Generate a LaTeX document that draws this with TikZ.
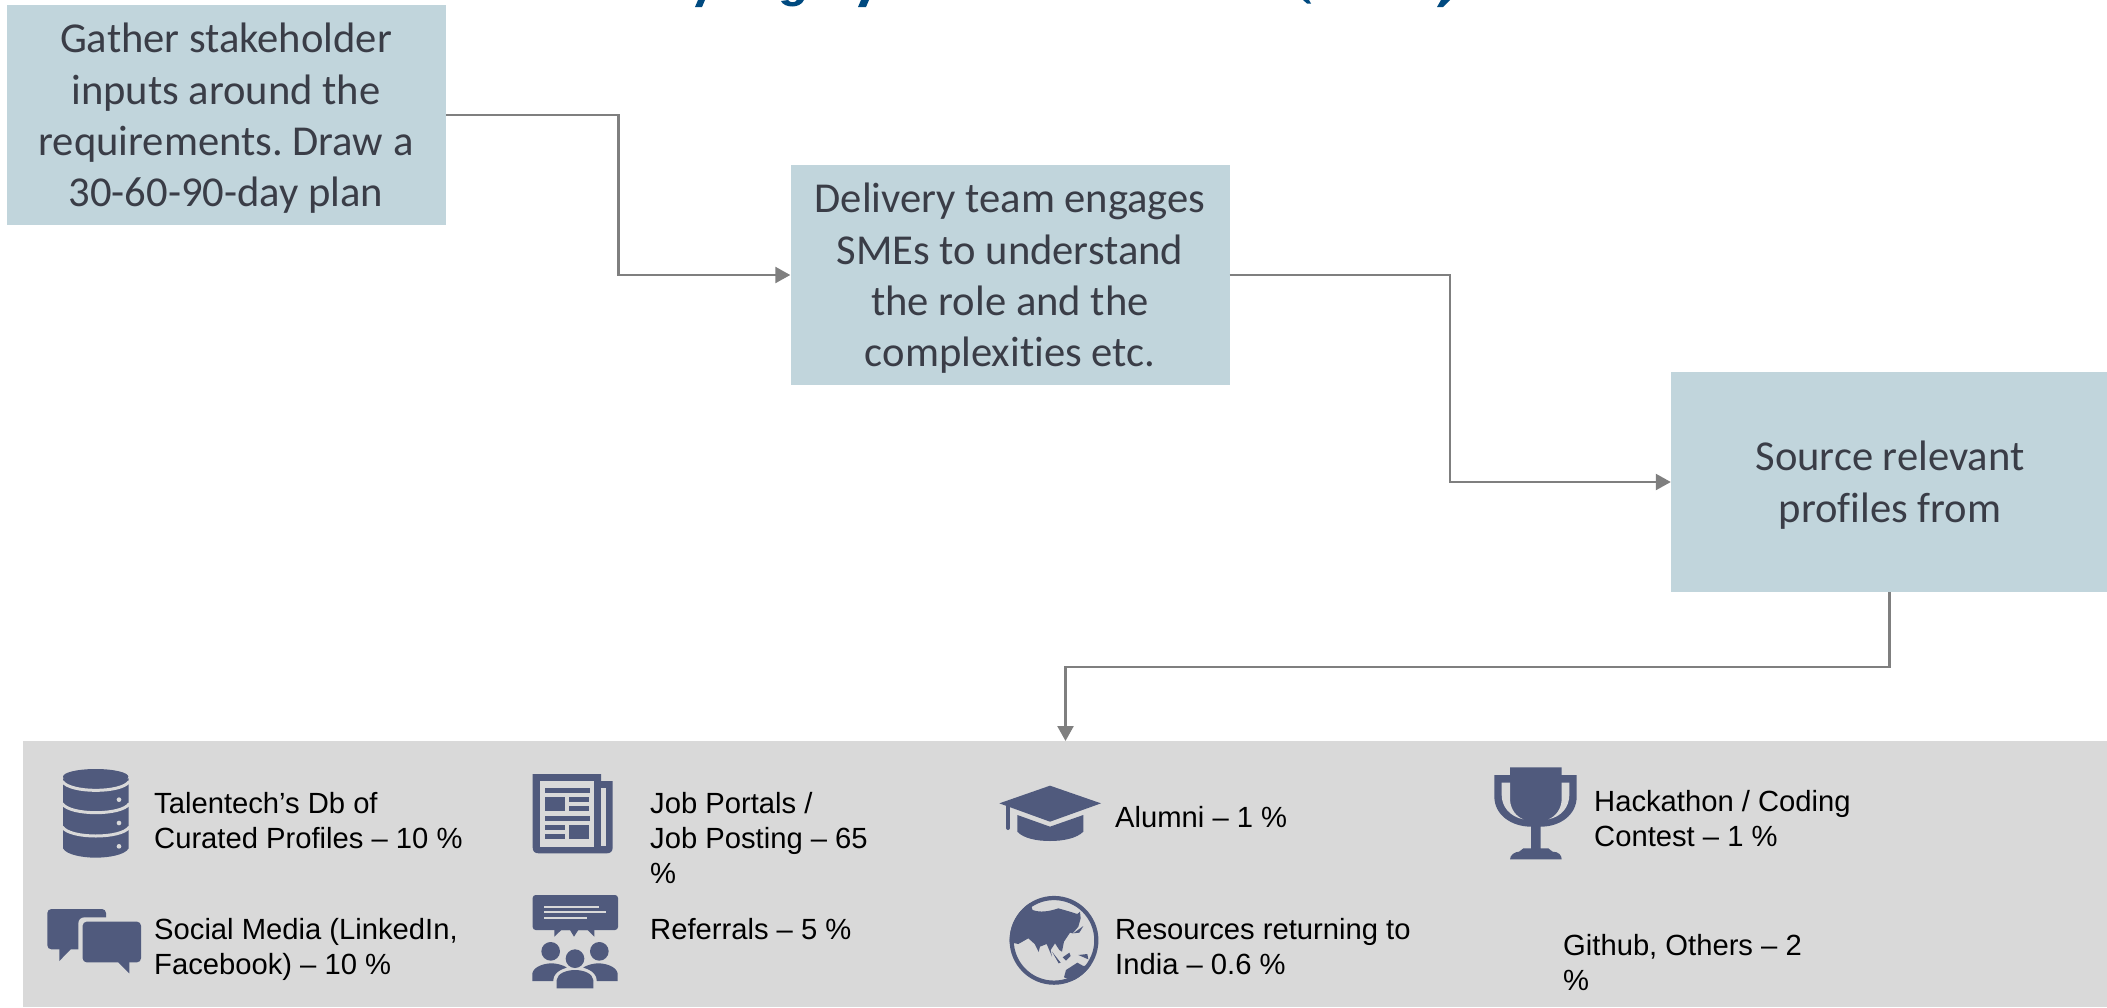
\documentclass[tikz,border=0pt]{standalone}
\usepackage{fontspec}
\setmainfont{Carlito}[RawFeature={-liga;-clig}]
\newfontfamily\labelfont{Liberation Sans}
\usetikzlibrary{arrows.meta}
\frenchspacing
\definecolor{boxfill}{HTML}{C1D5DC}
\definecolor{boxtext}{HTML}{3A3D47}
\definecolor{panelgrey}{HTML}{D9D9D9}
\definecolor{icon}{HTML}{505A7D}
\definecolor{linkgrey}{HTML}{7F7F7F}
\definecolor{titleblue}{HTML}{004A80}
\tikzset{
  stepbox/.style={rectangle,fill=boxfill,minimum width=439pt,minimum height=220pt,inner sep=0pt},
  steptext/.style={inner sep=0pt,align=center,text=boxtext,font=\fontsize{42.6}{51.4}\selectfont},
  link/.style={draw=linkgrey,line width=2.4pt,-{Triangle[length=15pt,width=16pt]}},
  lab/.style={anchor=west,inner sep=0pt,align=left,text=black,font=\labelfont\fontsize{29.2}{35}\selectfont},
  gapline/.style={draw=panelgrey,line width=2pt}
}
\begin{document}
\begin{tikzpicture}[x=1pt,y=-1pt]
\useasboundingbox (0,0) rectangle (2107,1007);
% cropped title remains
\fill[titleblue] (695,7) -- (698,0) -- (705,0) -- (702,7) -- cycle;
\fill[titleblue] (781,1) .. controls (784,8) and (800,9) .. (804,0) -- (797,0) .. controls (795,3) and (790,3) .. (788,0) -- cycle;
\fill[titleblue] (858,7) -- (861,0) -- (869,0) -- (866,7) -- cycle;
\fill[titleblue] (1303,0) -- (1307,3.5) -- (1311,3.5) -- (1309,0) -- cycle;
\fill[titleblue] (1437,7) -- (1443,7) -- (1450,0) -- (1441,0) -- cycle;
% panel
\node[fill=panelgrey,inner sep=0pt,minimum width=2084pt,minimum height=266pt] (panel) at (1065,874) {};
% steps
\node[stepbox] (gather) at (226.5,115) {};
\node[stepbox] (delivery) at (1010,275) {};
\node[stepbox,minimum width=437pt] (source) at (1889.5,482) {};
\node[steptext] (gathertext) at (226,118.5) {Gather stakeholder\\inputs around the\\requirements. Draw a\\30-60-90-day plan};
\node[steptext] (deliverytext) at (1010,278.5) {Delivery team engages\\SMEs to understand\\the role and the\\complexities etc.};
\node[steptext] (sourcetext) at (1890,485) {Source relevant\\profiles from};
% connectors
\coordinate (c1) at (618.5,200);
\coordinate (c2) at (1450,400);
\coordinate (c3) at (1065.5,741);
\coordinate (c4) at (1065.5,667);
\draw[link] (gather.east) -| (c1) |- (delivery.west);
\draw[link] (delivery.east) -| (c2) |- (source.west);
\draw[link] (source.south) |- (c4) -- (c3);
% labels
\node[lab] (l1) at (154,821) {Talentech’s Db of\\Curated Profiles – 10 \%};
\node[lab] (l2) at (650,837.5) {Job Portals /\\Job Posting – 65\\\%};
\node[lab] (l3) at (154,949) {Social Media (LinkedIn,\\Facebook) – 10 \%};
\node[lab] (l4) at (650,929) {Referrals – 5 \%};
\node[lab] (l5) at (1115,817) {Alumni – 1 \%};
\node[lab] (l6) at (1594,819) {Hackathon / Coding\\Contest – 1 \%};
\node[lab] (l7) at (1115,946.5) {Resources returning to\\India – 0.6 \%};
\node[lab] (l8) at (1563,962.5) {Github, Others – 2\\\%};
% database icon
\begin{scope}[shift={(40,760)},scale=1/3]
\fill[icon] (69,55) -- (69,265) .. controls (80,285) and (130,293) .. (167,293) .. controls (205,293) and (255,285) .. (266,265) -- (266,55) -- cycle;
\draw[panelgrey,line width=3pt] (67,64) .. controls (90,100) and (245,100) .. (268,64);
\draw[panelgrey,line width=3pt] (67,131) .. controls (90,167) and (245,167) .. (268,131);
\draw[panelgrey,line width=3pt] (67,201) .. controls (90,237) and (245,237) .. (268,201);
\fill[icon] (167,50) ellipse [x radius=98pt,y radius=23pt];
\foreach \yy in {119,189,259} \fill[panelgrey] (237,\yy) circle [radius=7pt];
% chat
\fill[icon,rounded corners=4pt] (22,447) -- (198,447) -- (198,568) -- (22,568) -- cycle;
\fill[icon] (58,560) -- (58,603) -- (92,568) -- (92,560) -- cycle;
\fill[panelgrey,rounded corners=6pt] (115,472) rectangle (316,622);
\fill[icon,rounded corners=4pt] (128,485) rectangle (303,607);
\fill[icon] (235,600) -- (235,607) -- (268,640) -- (268,600) -- cycle;
\end{scope}
% newspaper and referrals
\begin{scope}[shift={(520,760)},scale=1/3]
\fill[icon] (38,42) -- (243,42) -- (243,63) -- (278,63) -- (278,262) .. controls (278,274) and (272,280) .. (260,280) -- (56,280) .. controls (44,280) and (38,274) .. (38,262) -- cycle;
\fill[panelgrey] (60,63) rectangle (222,260);
\fill[panelgrey] (244,84) rectangle (258,258);
\foreach \a/\b/\c/\d in {75/84/210/98,75/111/135/153,147/111/207/125,147/138/207/153,75/168/210/182,75/195/135/209,75/222/135/237,147/195/207/237}
  \fill[icon] (\a,\b) rectangle (\c,\d);
\fill[icon,rounded corners=3pt] (38,405) rectangle (294,510);
\fill[icon] (103,505) -- (103,530) -- (124,510) -- (150,510) -- (162,530) -- (175,510) -- (203,510) -- (223,530) -- (223,505) -- cycle;
\draw[gapline] (72,440) -- (237,440);
\draw[gapline] (72,457) -- (258,457);
\draw[gapline] (72,475) -- (202,475);
\fill[icon] (92,574) circle [radius=28pt];
\fill[icon] (238,574) circle [radius=28pt];
\fill[icon] (37,663) -- (37,640) .. controls (42,618) and (75,610) .. (95,610) .. controls (110,610) and (125,614) .. (140,622) -- (100,663) -- cycle;
\fill[icon] (293,663) -- (293,640) .. controls (288,618) and (255,610) .. (235,610) .. controls (220,610) and (205,614) .. (190,622) -- (230,663) -- cycle;
\fill[panelgrey] (100,690) -- (100,660) .. controls (102,632) and (140,620) .. (165,620) .. controls (190,620) and (228,632) .. (230,660) -- (230,690) -- cycle;
\fill[icon] (110,685) -- (110,660) .. controls (112,640) and (140,630) .. (165,630) .. controls (190,630) and (218,640) .. (220,660) -- (220,685) -- cycle;
\fill[icon] (165,596) circle [radius=28pt];
\end{scope}
% mortarboard and globe
\begin{scope}[shift={(990,770)},scale=1/3]
\fill[icon] (28,100) -- (180,47) -- (333,100) -- (180,155) -- cycle;
\draw[icon,line width=4pt,line cap=round] (54,110) -- (54,174);
\fill[icon] (82,135) -- (180,170) -- (280,135) -- (280,185) .. controls (260,205) and (220,213) .. (180,213) .. controls (140,213) and (100,205) .. (82,185) -- cycle;
\begin{scope}
\clip (192,511) circle [radius=133pt];
\fill[icon] (128,420) .. controls (150,428) and (175,425) .. (205,415) -- (240,425) -- (262,432) -- (270,425) -- (272,445) -- (265,470) -- (248,490) -- (240,488) -- (222,515) -- (216,545) -- (208,540) -- (195,520) -- (182,540) -- (186,560) -- (170,522) -- (150,530) -- (146,546) -- (134,522) -- (115,505) -- (85,522) -- (50,515) -- (50,370) -- (110,370) -- cycle;
\fill[icon] (186,545) -- (212,578) -- (206,580) -- cycle;
\fill[icon] (218,562) -- (238,548) -- (242,558) -- (228,572) -- cycle;
\fill[icon] (265,555) -- (292,552) -- (295,568) -- cycle;
\fill[icon] (250,490) -- (280,468) -- (268,488) -- cycle;
\fill[icon] (222,622) -- (228,600) -- (262,578) -- (280,588) -- (300,585) -- (330,610) -- (270,640) -- cycle;
\end{scope}
\fill[panelgrey] (128,411) .. controls (150,398) and (190,390) .. (218,402) -- (216,410) .. controls (190,418) and (150,425) .. (128,417) -- cycle;
\draw[icon,line width=4.2pt] (192,511) circle [radius=127pt];
\end{scope}
% trophy
\begin{scope}[shift={(1480,760)},scale=1/3]
\fill[icon] (90,22) -- (245,22) -- (245,45) -- (290,45) -- (290,110) .. controls (290,165) and (240,200) .. (182,200) -- (182,265) -- (205,265) .. controls (210,265) and (212,275) .. (218,275) .. controls (235,275) and (245,285) .. (245,298) -- (90,298) .. controls (90,285) and (105,275) .. (117,275) .. controls (123,275) and (125,265) .. (130,265) -- (153,265) -- (153,200) .. controls (95,200) and (43,165) .. (43,110) -- (43,45) -- (90,45) -- cycle;
\fill[panelgrey] (65,68) -- (90,68) -- (90,120) .. controls (92,150) and (110,170) .. (130,178) .. controls (90,170) and (65,140) .. (65,105) -- cycle;
\fill[panelgrey] (268,68) -- (245,68) -- (245,120) .. controls (243,150) and (225,170) .. (205,178) .. controls (245,170) and (268,140) .. (268,105) -- cycle;
\end{scope}
\end{tikzpicture}
\end{document}
